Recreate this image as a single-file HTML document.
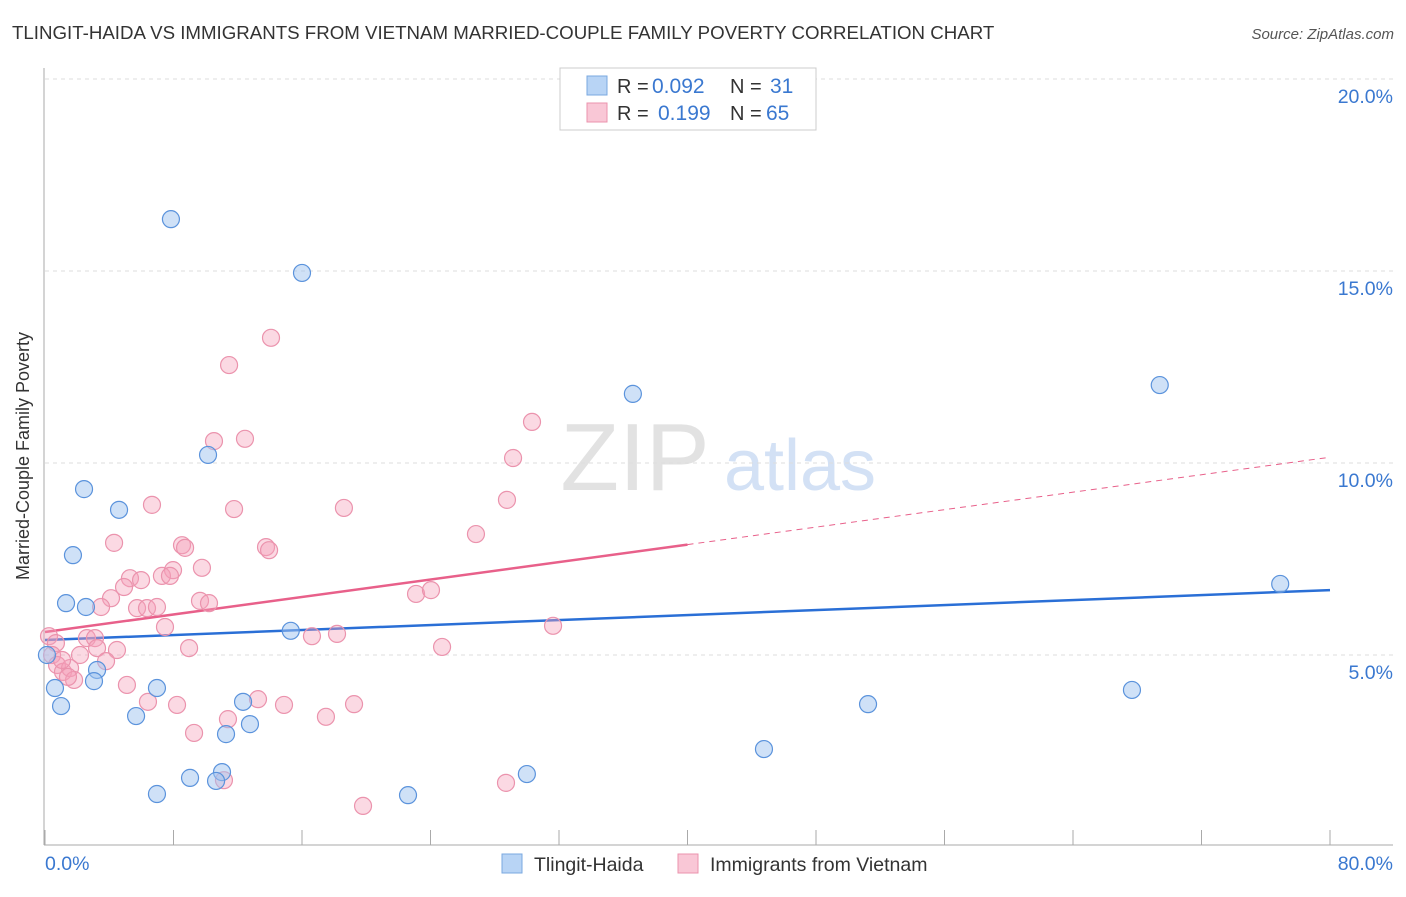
<!DOCTYPE html>
<html><head><meta charset="utf-8"><style>
body{margin:0;background:#fff;font-family:"Liberation Sans",sans-serif;}
svg text{font-family:"Liberation Sans",sans-serif;}
</style></head><body>
<svg id="chart" width="1406" height="892" xmlns="http://www.w3.org/2000/svg">
<text x="12" y="39" font-size="18.7" fill="#333">TLINGIT-HAIDA VS IMMIGRANTS FROM VIETNAM MARRIED-COUPLE FAMILY POVERTY CORRELATION CHART</text>
<text x="1394" y="39" font-size="15" fill="#555" font-style="italic" text-anchor="end">Source: ZipAtlas.com</text>
<text x="29" y="456" font-size="18" fill="#333" text-anchor="middle" transform="rotate(-90 29 456)">Married-Couple Family Poverty</text>
<g><text x="635" y="490" font-size="96" fill="#e2e2e2" font-family="Liberation Serif" text-anchor="middle">ZIP</text><text x="800" y="490" font-size="72" fill="#d3e1f5" text-anchor="middle">atlas</text></g>
<g id="grid"></g><g id="axes"></g><g id="trend"></g><g id="pts"></g>
<g>
<rect x="560" y="68" width="256" height="62" fill="#fff" stroke="#ccc"/>
<rect x="587" y="76" width="20" height="19" fill="#b8d4f5" stroke="#7aa8e0"/>
<text x="617" y="93" font-size="20" fill="#333">R = </text><text x="652" y="93" font-size="21" fill="#3a78d0">0.092</text>
<text x="730" y="93" font-size="20" fill="#333">N = </text><text x="770" y="93" font-size="21" fill="#3a78d0">31</text>
<rect x="587" y="103" width="20" height="19" fill="#f9c7d6" stroke="#eb93ad"/>
<text x="617" y="120" font-size="20" fill="#333">R = </text><text x="658" y="120" font-size="21" fill="#3a78d0">0.199</text>
<text x="730" y="120" font-size="20" fill="#333">N = </text><text x="766" y="120" font-size="21" fill="#3a78d0">65</text>
</g>
<g>
<rect x="502" y="854" width="20" height="19" fill="#b8d4f5" stroke="#7aa8e0"/>
<text x="534" y="871" font-size="19.5" fill="#333">Tlingit-Haida</text>
<rect x="678" y="854" width="20" height="19" fill="#f9c7d6" stroke="#eb93ad"/>
<text x="710" y="871" font-size="19.5" fill="#333">Immigrants from Vietnam</text>
</g>
</svg>
<script>
const xTicks=[0,8,16,24,32,40,48,56,64,72,80];
const yTicks=[5,10,15,20];
const blueX=[7.84,16.0,36.6,69.4,10.15,2.43,4.61,1.74,1.31,2.55,15.3,76.9,0.12,0.62,1.0,3.24,3.05,5.67,6.97,12.33,12.76,11.27,51.24,67.67,44.76,9.03,11.02,10.65,30.0,6.97,22.6];
const blueY=[16.35,14.95,11.8,12.03,10.21,9.32,8.78,7.6,6.35,6.25,5.63,6.85,5.0,4.14,3.67,4.61,4.32,3.41,4.14,3.78,3.2,2.94,3.72,4.09,2.55,1.8,1.95,1.72,1.9,1.38,1.35];
const pinkX=[14.07,11.46,10.52,12.45,30.32,29.14,28.76,6.66,11.77,18.61,26.83,4.3,8.53,8.72,13.76,13.95,7.97,9.77,5.29,5.98,7.28,7.78,4.92,4.11,5.73,6.35,6.97,3.49,9.65,10.21,23.1,24.03,7.47,31.63,16.62,18.18,2.61,3.11,0.25,0.68,3.24,4.48,8.97,24.72,2.18,0.44,0.75,1.12,1.56,1.81,1.43,3.8,5.1,6.41,8.22,13.26,14.88,17.49,19.24,11.39,9.28,11.14,28.7,19.8,1.06];
const pinkY=[13.26,12.55,10.57,10.63,11.07,10.13,9.04,8.91,8.8,8.83,8.15,7.92,7.86,7.79,7.81,7.73,7.21,7.27,7.0,6.95,7.06,7.06,6.77,6.48,6.22,6.22,6.25,6.25,6.41,6.35,6.59,6.69,5.73,5.76,5.49,5.55,5.44,5.44,5.49,5.31,5.18,5.13,5.18,5.21,5.0,5.0,4.74,4.56,4.66,4.35,4.43,4.84,4.22,3.78,3.7,3.85,3.7,3.39,3.72,3.33,2.97,1.74,1.67,1.07,4.87];
const blueTrend=[5.39,6.69];
const pinkTrend=[5.6,10.15];
const sx=v=>45+v*1285/80, sy=v=>847-v*38.4;
const NS='http://www.w3.org/2000/svg';
function mk(p,t,a){const e=document.createElementNS(NS,t);for(const k in a)e.setAttribute(k,a[k]);p.appendChild(e);return e;}
const grid=document.getElementById('grid'),axes=document.getElementById('axes'),tr=document.getElementById('trend'),pts=document.getElementById('pts');
yTicks.forEach(v=>{
 const l=mk(grid,'line',{x1:45,x2:1393,y1:sy(v),y2:sy(v),stroke:'#ddd','stroke-dasharray':'4 4'});
 
 
 const t=mk(grid,'text',{x:1393,y:sy(v)+24,'font-size':19.5,fill:'#3a78d0','text-anchor':'end'});t.textContent=v.toFixed(1)+'%';
 
 
});
mk(axes,'line',{x1:44,x2:44,y1:68,y2:845,stroke:'#aaa'});
mk(axes,'line',{x1:44,x2:1393,y1:845,y2:845,stroke:'#aaa'});
xTicks.forEach(v=>{
 const l=mk(axes,'line',{x1:sx(v),x2:sx(v),y1:830,y2:845,stroke:'#aaa'});
 
 
});
[[0,'start',45],[80,'end',1393]].forEach(([v,a,x])=>{const t=mk(axes,'text',{x:x,y:870,'font-size':19.5,fill:'#3a78d0','text-anchor':a});t.textContent=v.toFixed(1)+'%';
 
 });
const bl=mk(tr,'line',{x1:sx(0),y1:sy(blueTrend[0]),x2:sx(80),y2:sy(blueTrend[1]),stroke:'#2a6fd6','stroke-width':2.5});


const pm=(pinkTrend[0]+pinkTrend[1])/2;
const pl=mk(tr,'line',{x1:sx(0),y1:sy(pinkTrend[0]),x2:sx(40),y2:sy(pm),stroke:'#e8608a','stroke-width':2.5});


const pd=mk(tr,'line',{x1:sx(40),y1:sy(pm),x2:sx(80),y2:sy(pinkTrend[1]),stroke:'#e8608a','stroke-width':1,'stroke-dasharray':'6 5'});


pinkX.forEach((x,i)=>{const c=mk(pts,'circle',{cx:sx(x),cy:sy(pinkY[i]),r:8.5,fill:'rgba(245,160,185,0.4)',stroke:'#eb93ad','stroke-width':1.2});
 
 });
blueX.forEach((x,i)=>{const c=mk(pts,'circle',{cx:sx(x),cy:sy(blueY[i]),r:8.5,fill:'rgba(160,196,240,0.5)',stroke:'#5b93dc','stroke-width':1.2});
 
 });
</script>
</body></html>
